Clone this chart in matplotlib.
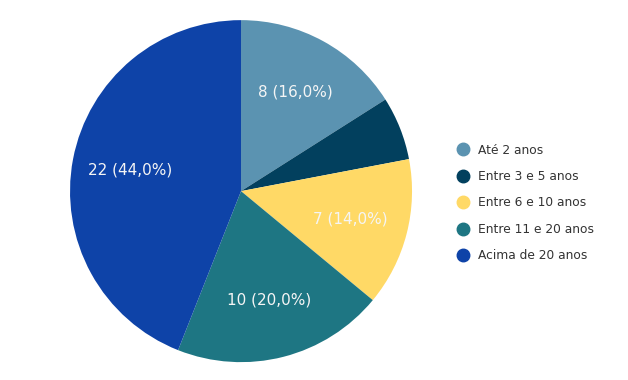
import matplotlib.pyplot as plt
from matplotlib.lines import Line2D

categorias = ['Até 2 anos', 'Entre 3 e 5 anos', 'Entre 6 e 10 anos',
              'Entre 11 e 20 anos', 'Acima de 20 anos']
valores = [8, 3, 7, 10, 22]
cores = ['#5b93b1', '#02405e', '#ffd966', '#1e7683', '#0e43a8']

fig = plt.figure(figsize=(6.28, 3.8), dpi=100)
ax = fig.add_axes([0.1115, 0.047, 0.5446, 0.9])

total = sum(valores)


def rotulo(pct):
    v = round(pct * total / 100)
    if pct < 10:
        return ''
    return f'{v} ({pct:.1f}%)'.replace('.', ',')


wedges, texts, autotexts = ax.pie(valores, colors=cores, startangle=90,
                                  counterclock=False, autopct=rotulo,
                                  pctdistance=0.66, radius=1,
                                  wedgeprops=dict(linewidth=0))
for t in autotexts:
    t.set_color('#f5f5f5')
    t.set_fontsize(11)
ax.set_xlim(-1, 1)
ax.set_ylim(-1, 1)
ax.set_aspect('equal')

handles = [Line2D([], [], marker='o', linestyle='', markersize=9,
                  markerfacecolor=c, markeredgecolor=c) for c in cores]
fig.legend(handles, categorias, loc='center left',
           bbox_to_anchor=(0.708, 0.466), frameon=False, fontsize=8.8,
           handletextpad=0.6, labelspacing=1.1, labelcolor='#333333',
           handlelength=1.2)

fig.savefig('out.png', dpi=100)
